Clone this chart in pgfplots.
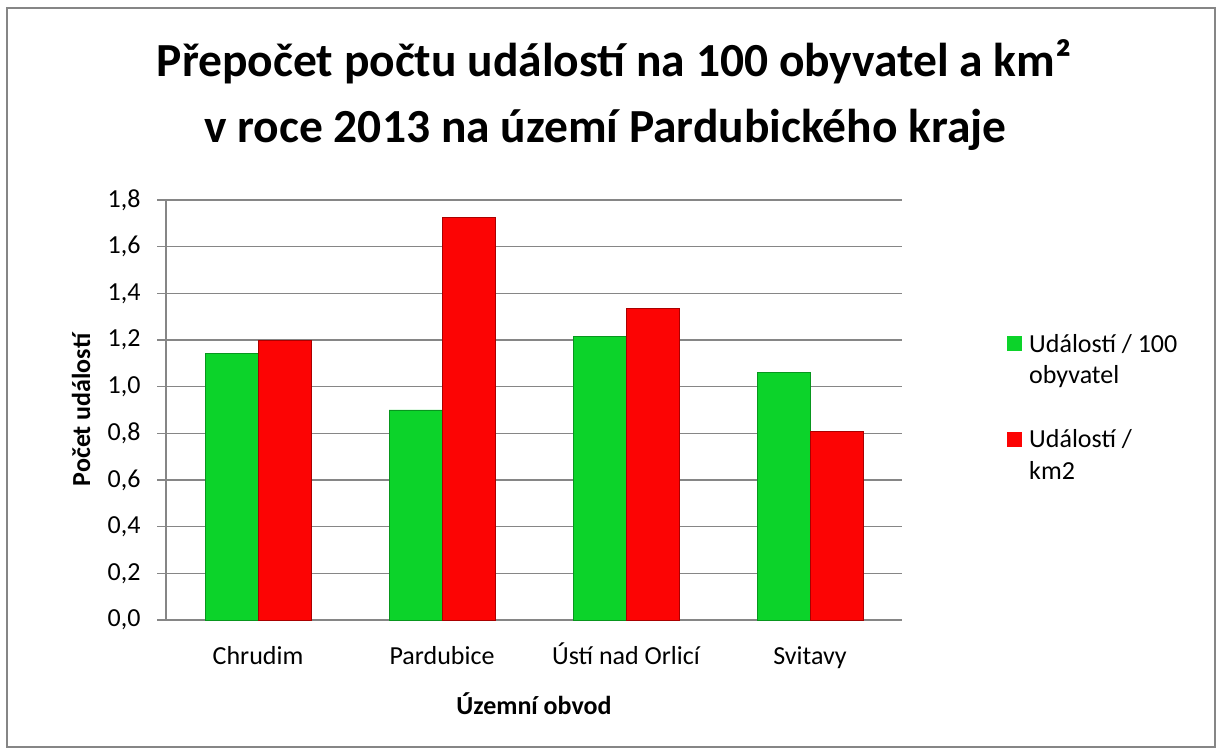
\documentclass[border=0pt]{standalone}
\usepackage{fontspec}
\setmainfont{Carlito}
\usepackage{pgfplots}
\pgfplotsset{compat=1.18}
\definecolor{bargreen}{RGB}{12,211,42}
\definecolor{bargreenD}{RGB}{8,150,30}
\definecolor{barred}{RGB}{252,4,4}
\definecolor{barredD}{RGB}{170,0,0}
\definecolor{gridgray}{RGB}{134,134,134}
\begin{document}
\begin{tikzpicture}[x=1pt,y=1pt]
\path[fill=white] (0,0) rectangle (1222,755);
\draw[gridgray, line width=2pt] (7,8) rectangle (1215,747);
\node[anchor=base, font=\fontsize{47.5}{57}\selectfont\bfseries] at (614,678) {Přepočet počtu událostí na 100 obyvatel a km²};
\node[anchor=base, font=\fontsize{47.5}{57}\selectfont\bfseries] at (605.5,612) {v roce 2013 na území Pardubického kraje};
\begin{axis}[
  at={(166pt,135pt)}, anchor=south west,
  scale only axis, width=736pt, height=420pt,
  xmin=-0.5, xmax=3.5, ymin=0, ymax=1.8,
  ybar=0pt, bar width=53pt,
  xtick={0,1,2,3},
  xticklabels={Chrudim, Pardubice, Ústí nad Orlicí, Svitavy},
  ytick={0,0.2,...,1.8},
  font=\fontsize{26}{31.5}\selectfont,
  /pgf/number format/assume math mode=true,
  yticklabel={\pgfmathprintnumber[fixed,fixed zerofill,precision=1,use comma]{\tick}},
  xticklabel style={anchor=base, yshift=-35pt},
  yticklabel style={xshift=-13pt},
  axis x line*=bottom, axis y line*=left,
  axis line style={gridgray, line width=1.5pt},
  x tick style={draw=none},
  y tick style={gridgray, line width=1.5pt},
  major tick length=9pt, tick align=outside,
  ymajorgrids, grid style={gridgray, line width=1.5pt},
  ylabel={\bfseries Počet událostí},
  xlabel={\bfseries Územní obvod},
  ylabel style={at={(axis description cs:-0.1155,0.5)}, anchor=center},
  xlabel style={at={(axis description cs:0.5,-0.226)}, anchor=base},
  legend style={at={(axis description cs:1.1386,0.70)}, anchor=north west, draw=none, fill=none, row sep=68pt, font=\fontsize{26}{31.5}\selectfont,
    /tikz/every odd column/.append style={column sep=5pt}},
  legend cell align=left,
  legend image code/.code={\fill[#1,draw=none] (0pt,-9pt) rectangle (15pt,6pt);},
]
\addplot[fill=bargreen, draw=bargreenD, line width=0.8pt] coordinates {(0,1.144) (1,0.900) (2,1.214) (3,1.062)};
\addplot[fill=barred, draw=barredD, line width=0.8pt] coordinates {(0,1.197) (1,1.724) (2,1.336) (3,0.807)};
\addlegendentry{\begin{tabular}[t]{@{}l@{}}Událostí / 100\\obyvatel\end{tabular}}
\addlegendentry{\begin{tabular}[t]{@{}l@{}}Událostí /\\km2\end{tabular}}
\end{axis}
\end{tikzpicture}
\end{document}
